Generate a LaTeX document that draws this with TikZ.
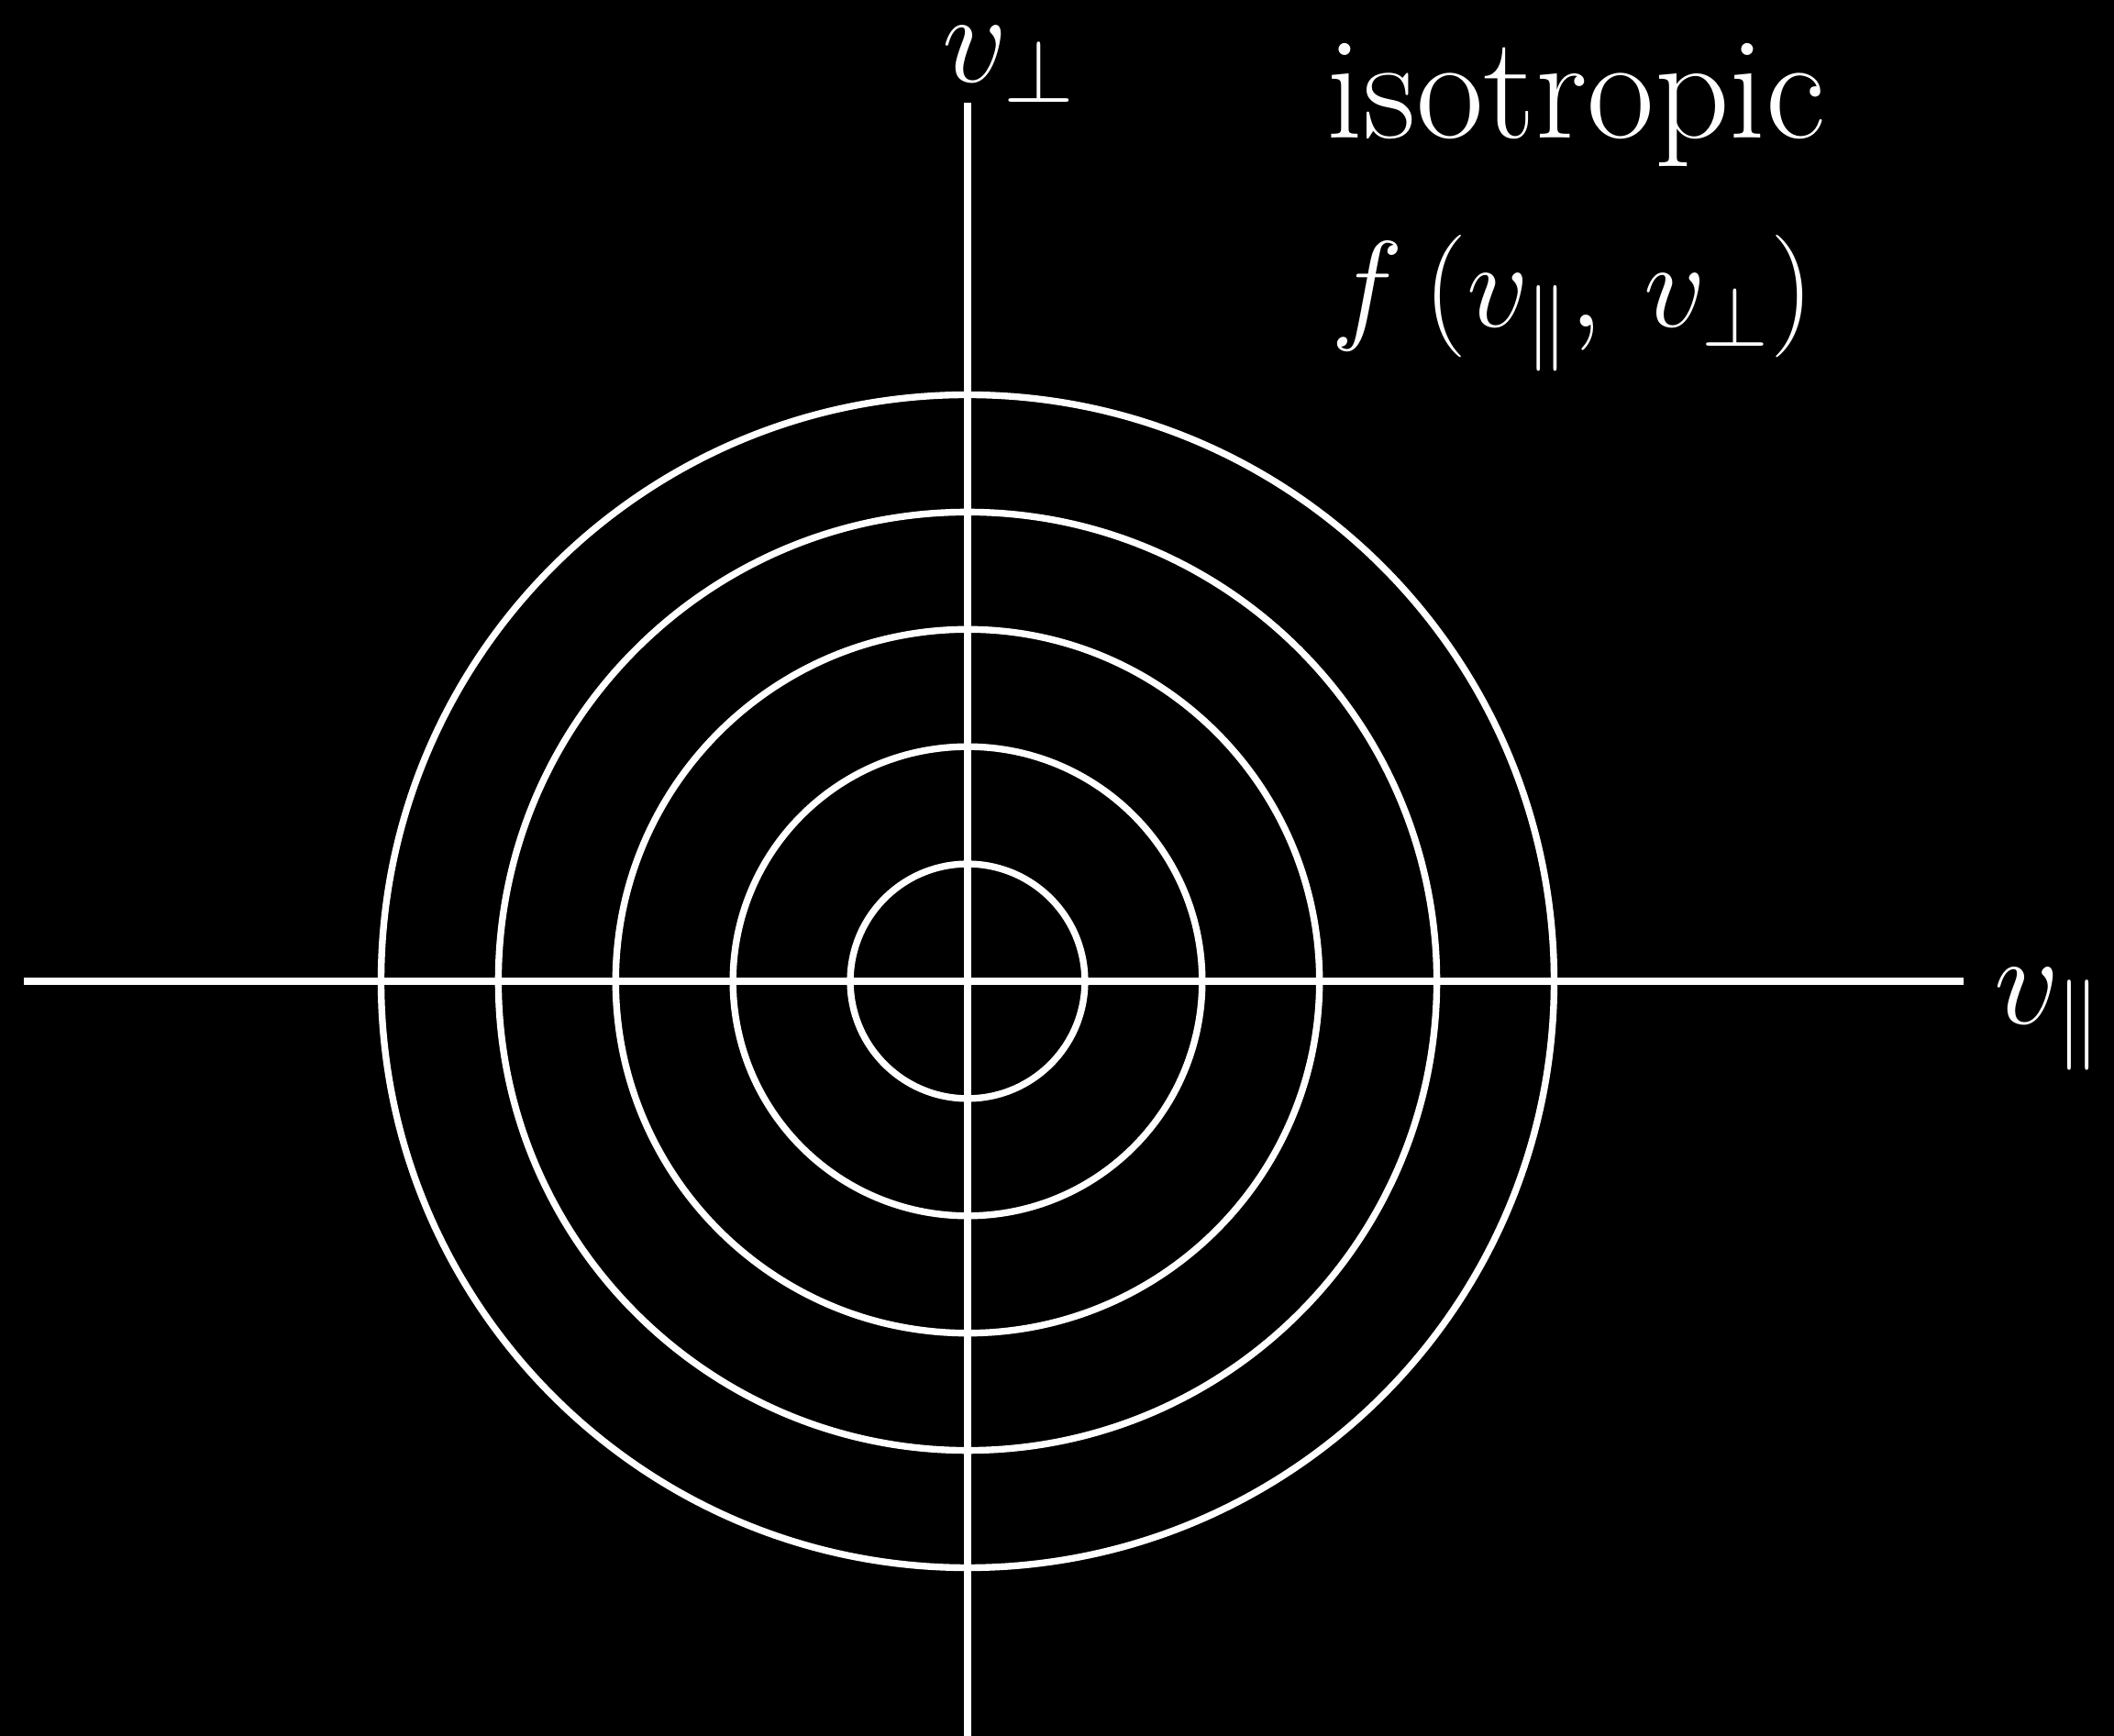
\documentclass[tikz,border=0pt]{standalone}
\usepackage{fix-cm}
\usepackage{amsmath}
\usepackage{tikz}
\usetikzlibrary{positioning}
\tikzset{
  axisline/.style={white, line width=2.1pt},
  ringline/.style={white, line width=2.1pt},
  axislabel/.style={white, font=\fontsize{40}{46}\selectfont, inner sep=0pt, anchor=base west},
  textlabel/.style={white, font=\fontsize{45.5}{52}\selectfont, inner sep=0pt, anchor=base west},
  mathlabel/.style={white, font=\fontsize{38}{44}\selectfont, inner sep=0pt, anchor=base west}
}
\begin{document}
\begin{tikzpicture}
            \fill[black] (0,0) rectangle (23.05,18.93);
            \useasboundingbox (0,0) rectangle (23.05,18.93);
            \coordinate (o) at (10.55,8.23);
            \coordinate (xl) at (0.26,8.23);
            \coordinate (xr) at (21.41,8.23);
            \coordinate (yb) at (10.55,0);
            \coordinate (yt) at (10.55,17.81);
            \draw[axisline] (xl) -- (xr);
            \draw[axisline] (yb) -- (yt);
            \foreach \k in {1,...,5}
                \draw[ringline] (o) circle ({1.279*\k});
            \node[axislabel] (vperp) at (10.27,18.03) {$v_{\perp}$};
            \node[axislabel] (vpar) at (21.74,7.76) {$v_{\|}$};
            \node[textlabel] (iso) at (14.46,17.42) {isotropic};
            \node[mathlabel] (dist) at (14.51,15.36) {$f\,(v_{\|},\,v_{\perp})$};
        \end{tikzpicture}
\end{document}
